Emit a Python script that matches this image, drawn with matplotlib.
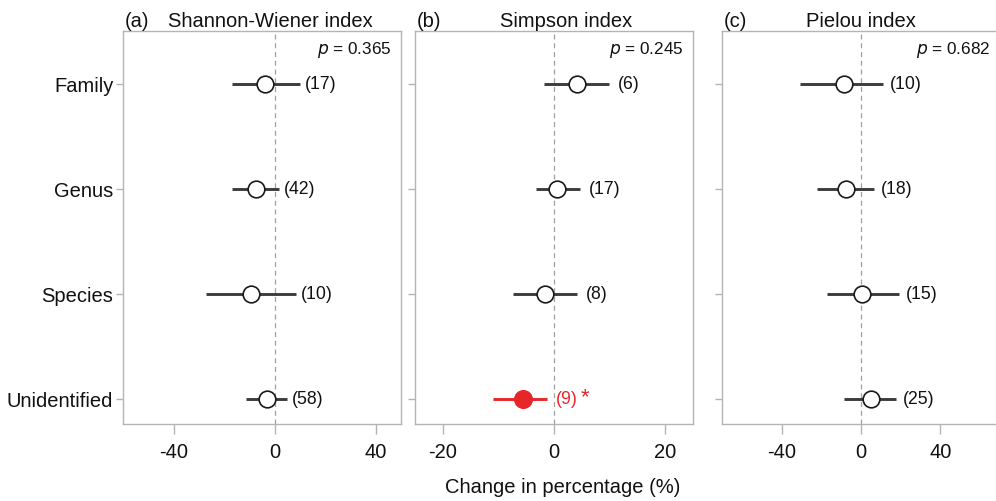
import matplotlib
matplotlib.use("Agg")
import matplotlib.pyplot as plt

plt.rcParams['font.family'] = ['Liberation Sans', 'DejaVu Sans']

categories = ["Family", "Genus", "Species", "Unidentified"]
panel_letters = ["(a)", "(b)", "(c)"]
panel_titles = ["Shannon-Wiener index", "Simpson index", "Pielou index"]
p_values = ["0.365", "0.245", "0.682"]

# mean, lower CI, upper CI, sample size per category
sw_mean = [-4.0, -7.3, -9.2, -3.2]
sw_low = [-17.0, -16.9, -27.0, -11.5]
sw_high = [10.0, 1.6, 8.3, 4.8]
sw_n = [17, 42, 10, 58]

si_mean = [4.1, 0.5, -1.6, -5.6]
si_low = [-1.8, -3.3, -7.3, -10.9]
si_high = [9.9, 4.7, 4.2, -1.3]
si_n = [6, 17, 8, 9]
si_sig = [False, False, False, True]

pi_mean = [-8.7, -7.6, 0.5, 5.1]
pi_low = [-30.6, -22.0, -17.3, -8.7]
pi_high = [11.2, 6.3, 19.0, 17.8]
pi_n = [10, 18, 15, 25]

means = [sw_mean, si_mean, pi_mean]
lows = [sw_low, si_low, pi_low]
highs = [sw_high, si_high, pi_high]
ns = [sw_n, si_n, pi_n]
sigs = [[False] * 4, si_sig, [False] * 4]

xlims = [(-60, 50), (-25, 25), (-70, 70)]
xticks = [[-40, 0, 40], [-20, 0, 20], [-40, 0, 40]]
title_x = [0.529, 0.543, 0.5]
label_gap_px = [5, 9, 7]

W, H = 996, 502
fig = plt.figure(figsize=(W / 100, H / 100), dpi=100)

lefts = [123, 415, 722]
bottom_px, top_px = 425, 32
width_px = 278

ypos = [4, 3, 2, 1]
grey = '#b4b4b4'
linecol = '#3c3c3c'
red = '#e8262a'
txtcol = '#111111'

for i in range(3):
    ax = fig.add_axes([lefts[i] / W, 1 - bottom_px / H, width_px / W, (bottom_px - top_px) / H])
    ax.set_xlim(*xlims[i])
    ax.set_ylim(0.76, 4.5)
    ax.axvline(0, color='#a0a0a0', lw=0.9, ls=(0, (4, 3)), zorder=1)
    for j in range(4):
        sig = sigs[i][j]
        col = red if sig else linecol
        ax.plot([lows[i][j], highs[i][j]], [ypos[j], ypos[j]], color=col, lw=2.1,
                solid_capstyle='butt', zorder=2)
        if sig:
            ax.plot(means[i][j], ypos[j], 'o', ms=12.5, mfc=red, mec=red, mew=1.2, zorder=3)
        else:
            ax.plot(means[i][j], ypos[j], 'o', ms=12, mfc='white', mec='#1a1a1a', mew=1.2, zorder=3)
        lab = ax.annotate(f"({ns[i][j]})", xy=(highs[i][j], ypos[j]),
                          xytext=(label_gap_px[i], 0), textcoords='offset pixels',
                          color=red if sig else txtcol, fontsize=12.7, va='center', ha='left')
        if sig:
            ax.annotate("*", xy=(highs[i][j], ypos[j]),
                        xytext=(label_gap_px[i] + 25, 2), textcoords='offset pixels',
                        color=red, fontsize=16, va='center', ha='left')
    ax.set_yticks(ypos)
    if i == 0:
        ax.set_yticklabels(categories, fontsize=14.5)
    else:
        ax.set_yticklabels([])
    ax.set_xticks(xticks[i])
    ax.set_xticklabels([str(t) for t in xticks[i]], fontsize=14.5)
    ax.tick_params(axis='both', color=grey, width=1.0, labelcolor=txtcol)
    ax.tick_params(axis='x', length=7, pad=6)
    ax.tick_params(axis='y', length=5, pad=2)
    for s in ax.spines.values():
        s.set_color(grey)
        s.set_linewidth(1.0)
    ax.text(0.005, 1.013, panel_letters[i], transform=ax.transAxes, fontsize=14.5,
            ha='left', va='baseline', color=txtcol)
    ax.text(title_x[i], 1.013, panel_titles[i], transform=ax.transAxes, fontsize=14.5,
            ha='center', va='baseline', color=txtcol)
    ax.text(0.965, 0.953, f"$p$ = {p_values[i]}", transform=ax.transAxes, fontsize=12.3,
            ha='right', va='center', color=txtcol)

fig.text(563 / W, 1 - 488 / H, "Change in percentage (%)", fontsize=14.5,
         ha='center', va='center', color=txtcol)

fig.savefig("out.png", dpi=100)
